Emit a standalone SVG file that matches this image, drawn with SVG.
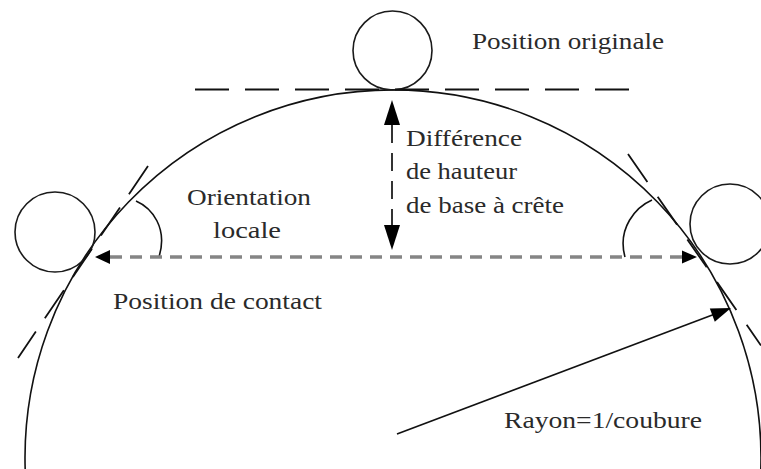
<svg xmlns="http://www.w3.org/2000/svg" width="761" height="469" viewBox="0 0 761 469">
<style>
.line{fill:none;stroke:#111;stroke-width:1.6}
.circ{fill:none;stroke:#1a1a1a;stroke-width:1.6}
.dash-black{fill:none;stroke:#111;stroke-width:1.8;stroke-dasharray:34 16}
.dash-gray{fill:none;stroke:#858585;stroke-width:3.5;stroke-dasharray:12 8}
.dash-v{fill:none;stroke:#333;stroke-width:2;stroke-dasharray:18 10}
.head{fill:#000;stroke:none}
.lbl{font-family:"Liberation Serif","Times New Roman",serif;font-size:24px;fill:#2a2a2a}
</style>
<rect width="761" height="469" fill="#fff"/>
<g id="surface">
<path class="line" d="M25.2,470 A368,368 0 1 1 760.8,470"/>
</g>
<g id="roller-top"><circle class="circ" cx="392.5" cy="50.5" r="39.5"/></g>
<g id="roller-left"><circle class="circ" cx="55" cy="232" r="40"/></g>
<g id="roller-right"><circle class="circ" cx="730" cy="224" r="40"/></g>
<g id="connectors">
<line class="dash-black" x1="195" y1="89.5" x2="630" y2="89.5"/>
<line class="dash-black" x1="148" y1="166" x2="18" y2="358"/>
<line class="dash-black" style="stroke-dasharray:34 18" x1="628" y1="154" x2="761" y2="345.5"/>
<path class="line" d="M136,201 C152,208 168,228 159,257"/>
<path class="line" d="M652,200 C636,207 617,228 625,257"/>
<line class="dash-gray" x1="110" y1="257" x2="682" y2="257"/>
<polygon class="head" points="95,257 110,250 110,264"/>
<polygon class="head" points="697,257 682,250.5 682,263.5"/>
<line class="dash-v" x1="392" y1="125" x2="392" y2="225"/>
<polygon class="head" points="392,100 384,125 400,125"/>
<polygon class="head" points="392,250 384,225 400,225"/>
<line class="line" x1="397" y1="434" x2="715" y2="314"/>
<polygon class="head" points="731,308 714.8,321.7 709.8,308.6"/>
</g>
<g id="labels">
<text class="lbl" x="472" y="49" textLength="192" lengthAdjust="spacingAndGlyphs">Position originale</text>
<text class="lbl" x="406" y="146" textLength="116" lengthAdjust="spacingAndGlyphs">Différence</text>
<text class="lbl" x="406" y="179" textLength="111" lengthAdjust="spacingAndGlyphs">de hauteur</text>
<text class="lbl" x="406" y="213" textLength="158" lengthAdjust="spacingAndGlyphs">de base à crête</text>
<text class="lbl" x="187" y="205" textLength="124" lengthAdjust="spacingAndGlyphs">Orientation</text>
<text class="lbl" x="213" y="238" textLength="68" lengthAdjust="spacingAndGlyphs">locale</text>
<text class="lbl" x="113" y="309" textLength="209" lengthAdjust="spacingAndGlyphs">Position de contact</text>
<text class="lbl" x="504" y="428" textLength="198" lengthAdjust="spacingAndGlyphs">Rayon=1/coubure</text>
</g>
</svg>
